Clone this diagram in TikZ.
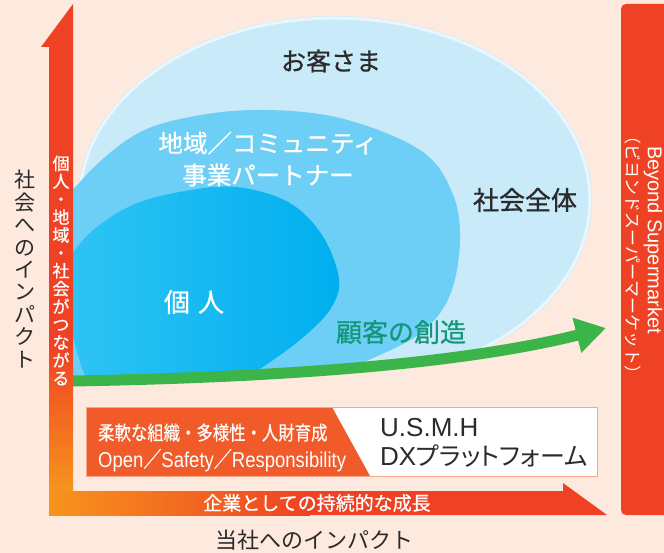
\documentclass[tikz,border=0pt]{standalone}
\usepackage{fontspec}
\setmainfont{Noto Sans CJK JP}
\newfontfamily\cjkm[FakeBold=0.9]{Noto Sans CJK JP}
\newfontfamily\cjkn[FakeStretch=0.84,FakeBold=0.5]{Noto Sans CJK JP}
\newfontfamily\cjkp[RawFeature=+palt]{Noto Sans CJK JP}
\newfontfamily\latn{Liberation Sans}
\newfontfamily\latnn[FakeStretch=0.86]{Liberation Sans}
\usetikzlibrary{arrows.meta}
\definecolor{bgpeach}{HTML}{FDE9DE}
\definecolor{ellout}{HTML}{C9EAF9}
\definecolor{ellmid}{HTML}{6DCFF6}
\definecolor{ellin}{HTML}{00AEEF}
\definecolor{ellinl}{HTML}{30C5F4}
\definecolor{arrred}{HTML}{EF4123}
\definecolor{arror}{HTML}{F7941D}
\definecolor{boxor}{HTML}{F15A29}
\definecolor{boxline}{HTML}{F6A68A}
\definecolor{grarrow}{HTML}{3BB54A}
\definecolor{tealtxt}{HTML}{14977B}
\definecolor{txtdark}{HTML}{2B2B2B}
\tikzset{
  lbl/.style={inner sep=0pt, text=txtdark},
  wlbl/.style={inner sep=0pt, text=white},
  vstack/.style={inner sep=0pt, align=center},
  garrow/.style={draw=grarrow, line width=11pt, -{Triangle[width=34pt,length=30pt]}},
}
\begin{document}
\begin{tikzpicture}[x=1pt,y=-1pt]
\useasboundingbox (0,0) rectangle (664,553);
\fill[bgpeach] (0,0) rectangle (664,553);

% nested customer circles, clipped right of the bar and above the green arrow
\begin{scope}
  \clip (73,0) -- (640,0) -- (640,330) -- (590,334) .. controls (470,362) and (300,377) .. (73,381) -- cycle;
  \fill[ellout] (335,200) ellipse [x radius=257pt, y radius=184pt];
  \draw[white, opacity=0.6, line width=3pt] (335,200) ellipse [x radius=255pt, y radius=182pt];
  \fill[ellmid] plot[smooth cycle, tension=0.6] coordinates {
    (60,222) (80,182) (130,138) (180,119) (255,110) (340,118) (420,150)
    (452,192) (460,240) (450,295) (422,332) (373,358) (320,378) (250,395)
    (150,402) (70,385)};
  \shade[left color=ellinl, right color=ellin] plot[smooth cycle, tension=0.6] coordinates {
    (62,280) (73,253) (97,227) (135,204) (185,191) (236,187) (288,202)
    (322,235) (339,279) (331,308) (307,334) (273,360) (240,380) (190,398)
    (100,402)};
\end{scope}

% green arrow
\coordinate (gs) at (73,381);
\coordinate (ge) at (606,328);
\draw[garrow] (gs) .. controls (300,377) and (470,362) .. (ge);

% vertical arrow
\fill[arrred] (73,4) -- (41,47) -- (49,47) -- (49,345) -- (73,345) -- cycle;
\shade[top color=arrred, bottom color=arror] (49,344.5) rectangle (73,491);
% horizontal arrow
\shade[left color=arror, right color=arrred] (49,491) rectangle (310,515);
\fill[arrred] (309.5,491) -- (563,491) -- (563,483) -- (607,515) -- (309.5,515) -- cycle;

% right box
\fill[arrred, rounded corners=5pt] (621,4) rectangle (690,515);

% bottom box
\fill[white] (86,407) rectangle (597,476);
\fill[boxor] (86,407) -- (332,407) -- (370,476) -- (86,476) -- cycle;
\draw[boxline, line width=1pt] (86,407) rectangle (597,476);

% texts in circles
\node[lbl, font=\cjkm\fontsize{25}{30}\selectfont] (okyaku) at (331,61) {お客さま};
\node[wlbl, align=center, font=\cjkm\fontsize{24.5}{32}\selectfont] (chiiki) at (268,159) {地域／コミュニティ\\事業パートナー};
\node[lbl, font=\cjkm\fontsize{26}{30}\selectfont] (shakai) at (525,200) {社会全体};
\node[wlbl, font=\cjkm\fontsize{26}{30}\selectfont] (kojin) at (194,302) {個\hspace{8pt}人};
\node[inner sep=0pt, text=tealtxt, font=\cjkm\fontsize{26}{30}\selectfont] (sozo) at (401,332) {顧客の創造};

% vertical labels
\node[vstack, text=txtdark, font=\fontsize{21}{22.4}\selectfont] (impL) at (25,269) {社\\会\\へ\\の\\イ\\ン\\パ\\ク\\ト};
\node[vstack, text=white, font=\cjkm\fontsize{17}{17.9}\selectfont] (tsunagu) at (61,270.5) {個\\人\\・\\地\\域\\・\\社\\会\\が\\つ\\な\\が\\る};

% right box texts
\node[wlbl, rotate=-90, font=\latn\fontsize{20}{24}\selectfont] (beyond) at (653,240) {Beyond Supermarket};
\node[wlbl, rotate=-90, font=\fontsize{17}{20}\selectfont] (beyondkana) at (633,255) {（ビヨンドスーパーマーケット）};

% bottom box texts
\node[wlbl, anchor=base west, font=\cjkn\fontsize{19.5}{22}\selectfont] (jyunan) at (98,440) {柔軟な組織・多様性・人財育成};
\node[wlbl, anchor=base west, font=\latnn\fontsize{21.5}{24}\selectfont] (open) at (98,467) {Open{\cjkn ／}Safety{\cjkn ／}Responsibility};
\node[lbl, anchor=base west, font=\latn\fontsize{26}{30}\selectfont] (usmh) at (380,436) {U.S.M.H};
\node[lbl, anchor=base west, font=\cjkp\fontsize{25}{30}\selectfont] (dx) at (380,465) {{\latn\fontsize{26}{30}\selectfont DX}プラットフォーム};

% axis labels
\node[wlbl, font=\cjkm\fontsize{19}{22}\selectfont] (kigyo) at (317,503) {企業としての持続的な成長};
\node[lbl, font=\fontsize{22}{26}\selectfont] (impB) at (314.5,540) {当社へのインパクト};
\end{tikzpicture}
\end{document}
